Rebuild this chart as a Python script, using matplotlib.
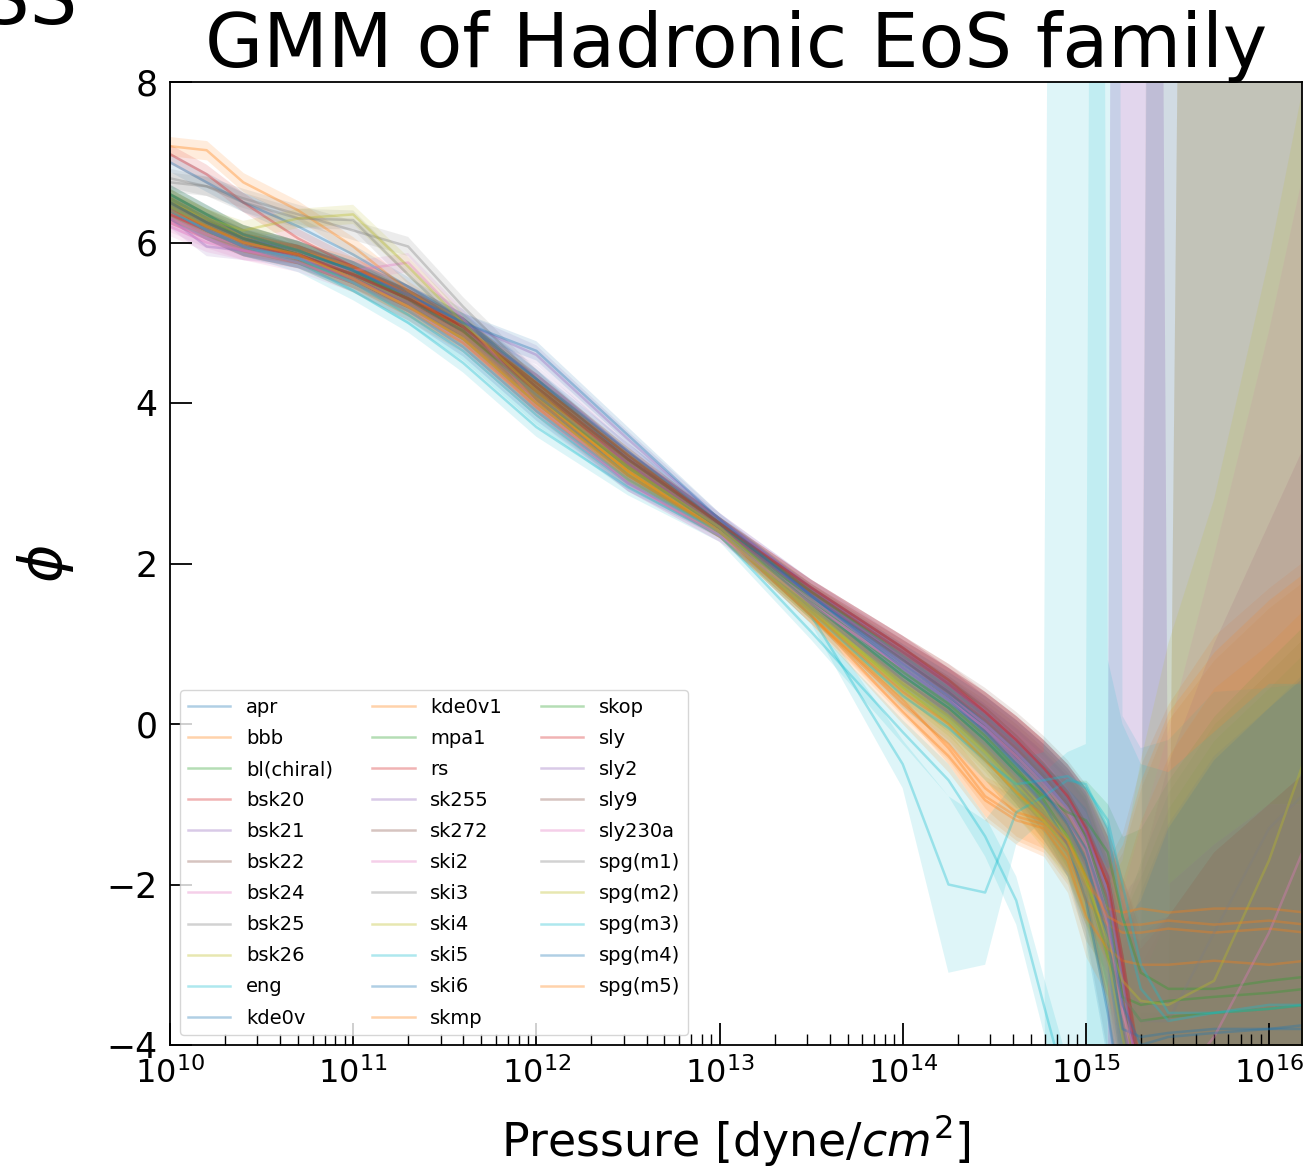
import numpy as np
import matplotlib.pyplot as plt

# log10 of pressure where the GMM mean / spread were evaluated
log_p = [10.0, 10.2, 10.4, 10.7, 11.0, 11.3, 11.6, 12.0, 12.5, 13.0, 13.5, 14.0, 14.25,
         14.45, 14.62, 14.77, 14.9, 15.0, 15.12, 15.2, 15.3, 15.45, 15.7, 16.0, 16.2]

eos_names = ['apr', 'bbb', 'bl(chiral)', 'bsk20', 'bsk21', 'bsk22', 'bsk24', 'bsk25', 'bsk26',
             'eng', 'kde0v', 'kde0v1', 'mpa1', 'rs', 'sk255', 'sk272', 'ski2', 'ski3', 'ski4',
             'ski5', 'ski6', 'skmp', 'skop', 'sly', 'sly2', 'sly9', 'sly230a', 'spg(m1)',
             'spg(m2)', 'spg(m3)', 'spg(m4)', 'spg(m5)']

# GMM mean of phi for each EoS
apr = [7.0, 6.75, 6.5, 6.2, 5.85, 5.45, 5.05, 4.3, 3.3, 2.5, 1.6, 0.8, 0.4, 0.0, -0.35, -0.7, -1.05, -1.45, -2.3, -3.5, -4.8, -5.2, -5.2, -5.2, -5.2]
bbb = [7.2, 7.15, 6.75, 6.4, 5.95, 5.4, 4.95, 4.1, 3.15, 2.4, 1.35, 0.3, -0.3, -0.9, -1.15, -1.25, -1.6, -2.2, -2.5, -2.6, -2.6, -2.55, -2.6, -2.55, -2.6]
bl_chiral = [6.55, 6.3, 6.05, 5.85, 5.6, 5.3, 4.95, 4.2, 3.3, 2.5, 1.55, 0.65, 0.25, -0.15, -0.55, -0.95, -1.4, -1.9, -2.9, -3.4, -3.5, -3.45, -3.4, -3.35, -3.3]
bsk20 = [7.1, 6.85, 6.5, 6.05, 5.7, 5.35, 4.95, 4.15, 3.25, 2.45, 1.65, 0.9, 0.5, 0.1, -0.25, -0.6, -0.95, -1.35, -2.0, -3.0, -4.5, -5.0, -5.0, -5.0, -5.0]
bsk21 = [6.3, 5.95, 5.9, 5.85, 5.6, 5.3, 4.9, 4.35, 3.4, 2.55, 1.7, 0.9, 0.5, 0.1, -0.25, -0.6, -0.95, -1.35, -2.1, -3.2, -4.6, -5.0, -5.0, -5.0, -5.0]
bsk22 = [6.4, 6.15, 5.95, 5.8, 5.55, 5.25, 4.9, 4.15, 3.2, 2.45, 1.6, 0.8, 0.4, 0.05, -0.3, -0.65, -1.0, -1.4, -2.2, -3.4, -4.8, -5.0, -5.0, -5.0, -5.0]
bsk24 = [6.2, 6.0, 5.9, 5.8, 5.55, 5.2, 4.75, 3.95, 3.0, 2.35, 1.55, 0.75, 0.35, 0.0, -0.35, -0.7, -1.05, -1.45, -2.3, -3.5, -4.8, -5.0, -5.0, -5.0, -5.0]
bsk25 = [6.75, 6.7, 6.55, 6.35, 6.15, 5.95, 5.2, 4.3, 3.25, 2.45, 1.45, 0.5, 0.1, -0.3, -0.7, -1.1, -1.5, -2.1, -3.5, -4.8, -5.0, -5.0, -5.0, -5.0, -5.0]
bsk26 = [6.5, 6.3, 6.1, 5.9, 5.6, 5.25, 4.85, 4.1, 3.15, 2.4, 1.4, 0.5, 0.1, -0.3, -0.7, -1.05, -1.4, -1.9, -2.8, -3.6, -4.5, -5.0, -5.0, -5.0, -5.0]
eng = [6.45, 6.2, 5.95, 5.75, 5.4, 5.0, 4.5, 3.7, 2.95, 2.35, 1.15, -0.1, -0.7, -1.4, -2.2, -3.5, -4.6, -5.0, -5.0, -5.0, -5.0, -5.0, -5.0, -5.0, -5.0]
kde0v = [6.6, 6.35, 6.1, 5.9, 5.65, 5.3, 4.9, 4.05, 3.1, 2.4, 1.5, 0.6, 0.2, -0.2, -0.6, -1.0, -1.5, -2.2, -3.6, -4.8, -5.0, -5.0, -5.0, -5.0, -5.0]
kde0v1 = [6.35, 6.15, 5.95, 5.8, 5.5, 5.15, 4.75, 3.95, 3.05, 2.4, 1.35, 0.25, -0.25, -0.8, -1.1, -1.2, -1.5, -2.0, -2.3, -2.35, -2.3, -2.35, -2.3, -2.3, -2.35]
mpa1 = [6.5, 6.25, 6.05, 5.85, 5.6, 5.3, 4.95, 4.25, 3.35, 2.5, 1.65, 0.85, 0.45, 0.1, -0.25, -0.6, -0.95, -1.4, -2.3, -3.4, -3.7, -3.65, -3.6, -3.55, -3.5]
rs = [6.4, 6.2, 6.0, 5.85, 5.6, 5.3, 4.95, 4.2, 3.3, 2.5, 1.7, 0.95, 0.5, 0.15, -0.2, -0.55, -0.9, -1.3, -1.9, -2.9, -4.3, -5.0, -5.0, -5.0, -5.0]
sk255 = [6.35, 6.15, 6.0, 5.85, 5.65, 5.35, 5.0, 4.6, 3.55, 2.55, 1.7, 0.95, 0.5, 0.15, -0.2, -0.55, -0.9, -1.3, -1.9, -3.0, -4.5, -5.0, -5.0, -5.0, -5.0]
sk272 = [6.45, 6.2, 6.0, 5.85, 5.6, 5.3, 4.95, 4.2, 3.3, 2.5, 1.65, 0.9, 0.5, 0.15, -0.2, -0.55, -0.9, -1.3, -2.0, -3.1, -4.6, -5.0, -5.0, -5.0, -5.0]
ski2 = [6.3, 6.1, 5.95, 5.8, 5.65, 5.75, 5.05, 4.0, 3.0, 2.4, 1.5, 0.7, 0.3, -0.05, -0.4, -0.75, -1.1, -1.5, -2.4, -3.6, -4.9, -5.0, -5.0, -5.0, -5.0]
ski3 = [6.6, 6.35, 6.1, 5.9, 5.6, 5.25, 4.8, 4.0, 3.1, 2.4, 1.45, 0.55, 0.15, -0.25, -0.65, -1.0, -1.35, -1.75, -2.6, -3.7, -4.8, -5.0, -5.0, -5.0, -5.0]
ski4 = [6.45, 6.2, 6.0, 5.85, 5.55, 5.2, 4.8, 4.0, 3.1, 2.4, 1.4, 0.45, 0.0, -0.45, -0.85, -1.2, -1.55, -2.0, -2.9, -3.9, -5.0, -5.0, -5.0, -5.0, -5.0]
ski5 = [6.4, 6.15, 5.95, 5.8, 5.5, 5.1, 4.65, 3.85, 3.0, 2.4, 1.35, -0.5, -2.0, -2.1, -1.1, -0.9, -0.7, -0.75, -1.3, -2.4, -3.3, -3.7, -3.6, -3.55, -3.5]
ski6 = [6.5, 6.25, 6.05, 5.9, 5.65, 5.35, 5.0, 4.3, 3.4, 2.5, 1.6, 0.75, 0.35, -0.05, -0.45, -0.85, -1.25, -1.7, -2.7, -3.8, -3.9, -3.85, -3.8, -3.8, -3.75]
skmp = [6.55, 6.3, 6.1, 5.9, 5.7, 5.35, 4.9, 4.05, 3.15, 2.4, 1.35, 0.15, -0.4, -0.95, -1.2, -1.3, -1.7, -2.4, -2.8, -2.95, -3.0, -3.0, -2.95, -3.0, -2.95]
skop = [6.6, 6.35, 6.1, 5.9, 5.65, 5.3, 4.9, 4.1, 3.2, 2.45, 1.5, 0.6, 0.2, -0.2, -0.6, -0.9, -1.1, -1.2, -1.6, -2.4, -3.1, -3.3, -3.3, -3.2, -3.15]
sly = [6.35, 6.15, 5.95, 5.85, 5.6, 5.3, 4.95, 4.25, 3.35, 2.5, 1.7, 0.95, 0.55, 0.15, -0.2, -0.55, -0.9, -1.3, -2.0, -3.0, -4.6, -5.0, -5.0, -5.0, -5.0]
sly2 = [6.4, 6.15, 5.95, 5.8, 5.55, 5.25, 4.85, 4.1, 3.25, 2.45, 1.6, 0.85, 0.45, 0.1, -0.25, -0.6, -0.95, -1.35, -2.1, -3.2, -4.6, -5.0, -5.0, -5.0, -5.0]
sly9 = [6.5, 6.25, 6.05, 5.85, 5.6, 5.3, 4.9, 4.15, 3.3, 2.5, 1.7, 0.95, 0.55, 0.2, -0.15, -0.5, -0.85, -1.25, -1.9, -2.9, -4.4, -5.0, -5.0, -5.0, -5.0]
sly230a = [6.25, 6.05, 5.9, 5.75, 5.5, 5.15, 4.7, 3.9, 3.0, 2.35, 1.5, 0.7, 0.3, -0.05, -0.45, -0.8, -1.2, -1.6, -2.5, -3.6, -4.3, -4.6, -3.9, -2.6, -1.5]
spg_m1 = [6.8, 6.7, 6.5, 6.3, 6.28, 5.6, 4.95, 4.1, 3.2, 2.45, 1.5, 0.55, 0.15, -0.3, -0.7, -1.1, -1.5, -2.0, -2.8, -3.4, -3.7, -3.7, -2.6, -1.3, -0.85]
spg_m2 = [6.55, 6.3, 6.15, 6.3, 6.35, 5.7, 5.0, 4.15, 3.2, 2.45, 1.45, 0.45, 0.05, -0.35, -0.75, -1.1, -1.45, -1.95, -2.7, -3.2, -3.45, -3.5, -3.2, -1.7, -0.4]
spg_m3 = [6.4, 6.15, 5.95, 5.8, 5.5, 5.15, 4.7, 3.9, 3.05, 2.4, 1.4, 0.35, -0.05, -0.45, -0.75, -0.7, -0.65, -0.8, -1.2, -2.0, -3.0, -3.6, -3.6, -3.5, -3.5]
spg_m4 = [6.55, 6.3, 6.1, 5.9, 5.65, 5.35, 5.0, 4.65, 3.6, 2.55, 1.6, 0.7, 0.3, -0.1, -0.5, -0.85, -1.2, -1.55, -2.4, -3.5, -4.0, -3.9, -3.85, -3.8, -3.8]
spg_m5 = [6.4, 6.2, 6.0, 5.85, 5.55, 5.2, 4.8, 4.0, 3.1, 2.4, 1.4, 0.4, 0.0, -0.45, -0.85, -1.15, -1.45, -1.9, -2.4, -2.5, -2.5, -2.45, -2.5, -2.45, -2.5]

# GMM standard deviation profiles (same pressure grid)
sig_low = [0.12, 0.12, 0.12, 0.12, 0.12, 0.12, 0.12, 0.12, 0.1, 0.08, 0.1, 0.15, 0.2, 0.25, 0.3, 0.35, 0.4, 0.5, 0.6, 1.0, 1.8, 2.6, 3.4, 4.0, 4.4]
sig_mid = [0.12, 0.12, 0.12, 0.12, 0.12, 0.12, 0.12, 0.12, 0.1, 0.08, 0.1, 0.15, 0.2, 0.25, 0.3, 0.35, 0.4, 0.5, 0.7, 1.5, 3.0, 4.5, 6.0, 7.5, 8.5]
sig_cyan = [0.12, 0.12, 0.12, 0.12, 0.12, 0.12, 0.12, 0.12, 0.1, 0.08, 0.1, 0.15, 0.2, 0.25, 0.3, 0.35, 60, 60, 2.0, 2.0, 2.5, 3.0, 3.5, 4.0, 4.0]
sig_dip = [0.12, 0.12, 0.12, 0.12, 0.12, 0.12, 0.12, 0.12, 0.1, 0.08, 0.1, 0.3, 1.1, 0.9, 0.4, 0.3, 0.35, 0.5, 60, 2.5, 3.0, 3.5, 4.0, 4.0, 4.0]
sig_lav = [0.12, 0.12, 0.12, 0.12, 0.12, 0.12, 0.12, 0.12, 0.1, 0.08, 0.1, 0.15, 0.2, 0.25, 0.3, 0.35, 0.4, 0.5, 0.6, 60, 60, 3.0, 3.5, 4.0, 4.0]
sig_late = [0.12, 0.12, 0.12, 0.12, 0.12, 0.12, 0.12, 0.12, 0.1, 0.08, 0.1, 0.15, 0.2, 0.25, 0.3, 0.35, 0.4, 0.5, 0.6, 0.8, 1.0, 60, 60, 60, 60]
sig_later = [0.12, 0.12, 0.12, 0.12, 0.12, 0.12, 0.12, 0.12, 0.1, 0.08, 0.1, 0.15, 0.2, 0.25, 0.3, 0.35, 0.4, 0.5, 0.6, 0.8, 1.0, 1.4, 60, 60, 60]

phi_mean = [apr, bbb, bl_chiral, bsk20, bsk21, bsk22, bsk24, bsk25, bsk26, eng, kde0v, kde0v1,
            mpa1, rs, sk255, sk272, ski2, ski3, ski4, ski5, ski6, skmp, skop, sly, sly2, sly9,
            sly230a, spg_m1, spg_m2, spg_m3, spg_m4, spg_m5]
phi_std = [sig_late, sig_low, sig_low, sig_low, sig_low, sig_low, sig_low, sig_low, sig_later,
           sig_low, sig_low, sig_low, sig_low, sig_low, sig_lav, sig_later, sig_mid, sig_mid,
           sig_low, sig_dip, sig_low, sig_low, sig_low, sig_low, sig_lav, sig_low, sig_mid,
           sig_late, sig_mid, sig_cyan, sig_low, sig_low]

fig = plt.figure(figsize=(13.14, 11.66), dpi=100)
ax = fig.add_axes([170 / 1314, 1 - 1045 / 1166, 1132 / 1314, 963 / 1166])

pressure = 10 ** np.array(log_p)
for i, (name, mu, sd) in enumerate(zip(eos_names, phi_mean, phi_std)):
    mu = np.array(mu)
    sd = np.array(sd)
    c = f'C{i % 10}'
    ax.fill_between(pressure, mu - sd, mu + sd, color=c, alpha=0.14, linewidth=0)
    ax.plot(pressure, mu, color=c, alpha=0.35, lw=1.8, label=name)

ax.set_xscale('log')
ax.set_xlim(1e10, 10 ** 16.18)
ax.set_ylim(-4, 8)
ax.set_yticks([-4, -2, 0, 2, 4, 6, 8])

ax.tick_params(which='both', direction='in')
ax.tick_params(axis='y', which='major', length=16, width=1.3, pad=9, labelsize=25)
ax.tick_params(axis='x', which='major', length=16, width=1.3, pad=9, labelsize=23)
ax.tick_params(axis='x', which='minor', length=8, width=1.0)
for sp in ax.spines.values():
    sp.set_linewidth(1.3)

ax.set_xlabel('Pressure [dyne/$cm^2$]', fontsize=33, labelpad=16)
ax.set_ylabel(r'$\phi$', fontsize=42, labelpad=22)

ax.legend(ncol=3, loc='lower left', fontsize=14, handlelength=2.2, columnspacing=2.0,
          handletextpad=0.8, labelspacing=0.62)

fig.text(736 / 1314, 1 - 67 / 1166, 'GMM of Hadronic EoS family', fontsize=54,
         ha='center', va='baseline')
fig.text(-18 / 1314, 1 - 24 / 1166, 'SS', fontsize=54, ha='left', va='baseline')

fig.savefig('out.png', dpi=100)
